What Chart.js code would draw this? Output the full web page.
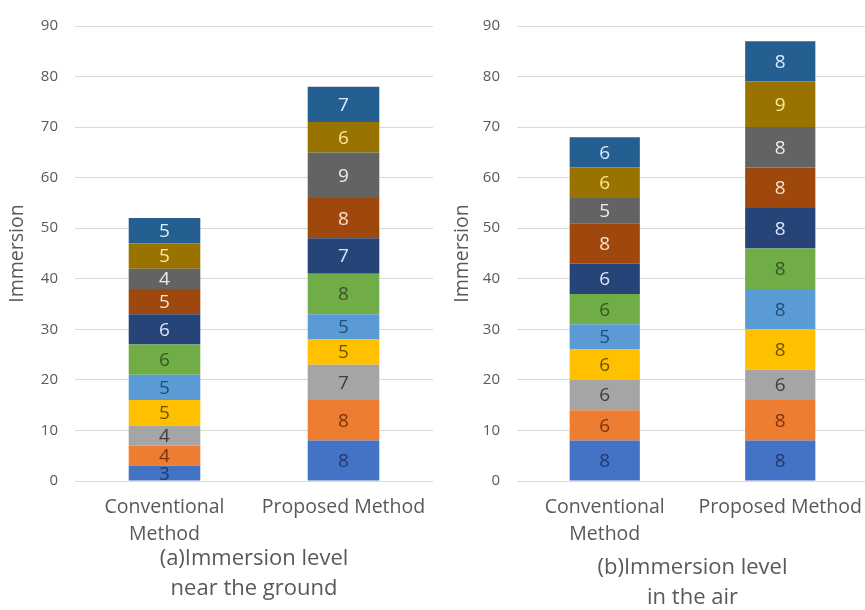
<!DOCTYPE html>
<html>
<head>
<meta charset="utf-8">
<script src="https://cdn.jsdelivr.net/npm/chart.js@4/dist/chart.umd.min.js"></script>
<style>
  html, body { margin: 0; padding: 0; background: #fff; }
  body { width: 865px; height: 610px; overflow: hidden; position: relative; }
  .panel { position: absolute; top: 0; }
  #panelA { left: 0; }
  #panelB { left: 440px; }
</style>
</head>
<body>
<div class="panel" id="panelA"><canvas id="chartA" width="433" height="610"></canvas></div>
<div class="panel" id="panelB"><canvas id="chartB" width="428" height="620"></canvas></div>
<script>
// Questionnaire items, stacked bottom to top
const items = ['Q1', 'Q2', 'Q3', 'Q4', 'Q5', 'Q6', 'Q7', 'Q8', 'Q9', 'Q10', 'Q11'];
const methods = [['Conventional', 'Method'], 'Proposed Method'];
const yTicks = [0, 10, 20, 30, 40, 50, 60, 70, 80, 90];

// (a) near the ground
const groundConventional = [3, 4, 4, 5, 5, 6, 6, 5, 4, 5, 5];
const groundProposed     = [8, 8, 7, 5, 5, 8, 7, 8, 9, 6, 7];
// (b) in the air
const airConventional = [8, 6, 6, 6, 5, 6, 6, 8, 5, 6, 6];
const airProposed     = [8, 8, 6, 8, 8, 8, 8, 8, 8, 9, 8];

const fillColors = ['#4472C4', '#ED7D31', '#A5A5A5', '#FFC000', '#5B9BD5', '#70AD47',
                    '#264478', '#9E480E', '#636363', '#997300', '#255E91'];
const labelColors = ['#22396B', '#7A3410', '#3F3F3F', '#6B5200', '#1F4E79', '#375623',
                     '#DAE3F3', '#FBE0CC', '#EDEDED', '#FFE699', '#DEEBF7'];

const FONT = "'Open Sans', 'DejaVu Sans', sans-serif";
const TEXT = '#595959';

// Writes each segment's value in the middle of its bar piece
const segmentValues = {
  id: 'segmentValues',
  afterDatasetsDraw(chart) {
    const ctx = chart.ctx;
    ctx.save();
    ctx.font = '19px ' + FONT;
    ctx.textAlign = 'center';
    ctx.textBaseline = 'middle';
    chart.data.datasets.forEach((ds, i) => {
      const meta = chart.getDatasetMeta(i);
      meta.data.forEach((bar, j) => {
        ctx.fillStyle = labelColors[i];
        ctx.fillText(String(ds.data[j]), bar.x, (bar.y + bar.base) / 2 + 1);
      });
    });
    ctx.restore();
  }
};

function makePanel(canvasId, conventional, proposed, captionLines, opt) {
  const datasets = items.map((name, i) => ({
    label: name,
    data: [conventional[i], proposed[i]],
    backgroundColor: fillColors[i],
    borderWidth: 0,
    barPercentage: 0.4,
    categoryPercentage: 1.0
  }));
  return new Chart(document.getElementById(canvasId), {
    type: 'bar',
    data: { labels: methods, datasets },
    plugins: [segmentValues],
    options: {
      responsive: false,
      animation: false,
      layout: { padding: { top: 20, left: 0, right: 0, bottom: 0 } },
      plugins: {
        legend: { display: false },
        tooltip: { enabled: false },
        title: {
          display: true,
          position: 'bottom',
          fullSize: false,
          text: captionLines,
          color: TEXT,
          font: { family: FONT, size: 22, weight: 'normal', lineHeight: 30 / 22 },
          padding: { top: opt.captionTop, bottom: opt.captionBottom }
        }
      },
      scales: {
        x: {
          stacked: true,
          grid: { display: false, drawTicks: false },
          border: { display: false },
          ticks: {
            color: TEXT,
            padding: 13,
            maxRotation: 0,
            autoSkip: false,
            font: { family: FONT, size: 19.5, lineHeight: 27 / 19.5 }
          },
          // category labels sit inside the plot width; no extra side room
          afterFit(scale) {
            scale.height = 68;
            scale.paddingLeft = 0;
            scale.paddingRight = 0;
          }
        },
        y: {
          stacked: true,
          min: 0,
          max: 90,
          afterBuildTicks(scale) { scale.ticks = yTicks.map(v => ({ value: v })); },
          grid: { color: '#D9D9D9', lineWidth: 1, drawTicks: false },
          border: { display: false },
          ticks: {
            color: TEXT,
            padding: 17,
            font: { family: FONT, size: 15 }
          },
          title: {
            display: true,
            text: 'Immersion',
            color: TEXT,
            font: { family: FONT, size: 19.5 },
            padding: { top: opt.titlePad, bottom: 0 }
          },
          afterFit(scale) { scale.width = opt.yWidth; }
        }
      }
    }
  });
}

makePanel('chartA', groundConventional, groundProposed,
  ['(a)Immersion level', 'near the ground'],
  { yWidth: 75, titlePad: 6, captionTop: -5, captionBottom: 6 });

makePanel('chartB', airConventional, airProposed,
  ['(b)Immersion level', 'in the air'],
  { yWidth: 77, titlePad: 11, captionTop: 4, captionBottom: 7 });
</script>
</body>
</html>
